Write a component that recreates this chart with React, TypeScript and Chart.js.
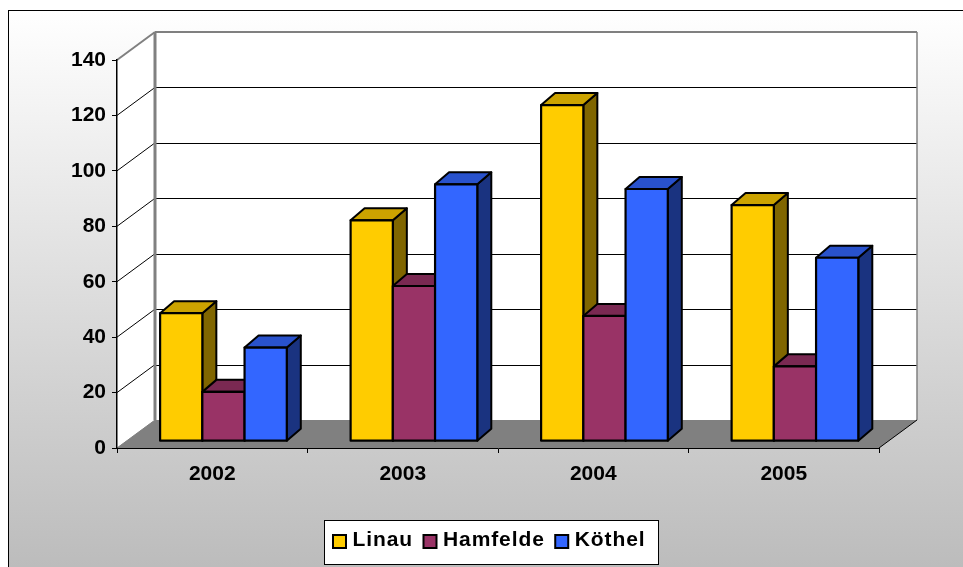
import React, { useEffect, useRef } from "react";
import { Chart, registerables } from "chart.js";

Chart.register(...registerables);

const years = ["2002", "2003", "2004", "2005"];
const linau = [46.2, 79.7, 121.3, 85.2];
const hamfelde = [17.8, 56, 45.2, 27];
const koethel = [33.8, 92.7, 91, 66.2];

const FONT = "'Liberation Sans', Arial, sans-serif";
const WALL_DX = 38;
const WALL_DY = 28;
const BAR_SHIFT_X = 11.2;
const BAR_SHIFT_Y = 6.8;
const BAR_DX = 14;
const BAR_DY = 12;

const sides: Record<string, { top: string; side: string }> = {
  "#FFCC00": { top: "#CCA300", side: "#806600" },
  "#993366": { top: "#7A2952", side: "#4D1A33" },
  "#3366FF": { top: "#2952CC", side: "#1A3380" },
};

function poly(ctx: CanvasRenderingContext2D, pts: number[][], fill?: string, stroke?: string, lw = 1) {
  ctx.beginPath();
  pts.forEach((p, i) => (i ? ctx.lineTo(p[0], p[1]) : ctx.moveTo(p[0], p[1])));
  ctx.closePath();
  if (fill) {
    ctx.fillStyle = fill;
    ctx.fill();
  }
  if (stroke) {
    ctx.strokeStyle = stroke;
    ctx.lineWidth = lw;
    ctx.lineJoin = "round";
    ctx.stroke();
  }
}

function line(ctx: CanvasRenderingContext2D, x0: number, y0: number, x1: number, y1: number, color: string, lw: number) {
  ctx.beginPath();
  ctx.moveTo(x0, y0);
  ctx.lineTo(x1, y1);
  ctx.strokeStyle = color;
  ctx.lineWidth = lw;
  ctx.stroke();
}

const scene3d = {
  id: "scene3d",
  afterDatasetsUpdate(chart: any) {
    chart.data.datasets.forEach((_: any, i: number) => {
      chart.getDatasetMeta(i).data.forEach((el: any) => {
        el.x += BAR_SHIFT_X;
        el.y -= BAR_SHIFT_Y;
        el.base -= BAR_SHIFT_Y;
      });
    });
  },
  beforeDraw(chart: any) {
    const { ctx, width, height, chartArea: a, scales } = chart;
    ctx.save();
    const g = ctx.createLinearGradient(0, 10, 0, height);
    g.addColorStop(0, "#FFFFFF");
    g.addColorStop(1, "#BCBCBC");
    ctx.fillStyle = "#FFFFFF";
    ctx.fillRect(0, 0, width, height);
    ctx.fillStyle = g;
    ctx.fillRect(8.5, 10.5, width, height);
    ctx.strokeStyle = "#000";
    ctx.lineWidth = 1;
    ctx.strokeRect(8.5, 10.5, width, height);

    const bx0 = a.left + WALL_DX;
    const bx1 = a.right + WALL_DX;
    const by0 = a.top - WALL_DY;
    const by1 = a.bottom - WALL_DY;
    poly(ctx, [[a.left, a.top], [bx0, by0], [bx0, by1], [a.left, a.bottom]], "#FFFFFF");
    poly(ctx, [[bx0, by0], [bx1, by0], [bx1, by1], [bx0, by1]], "#FFFFFF");
    scales.y.ticks.forEach((t: any) => {
      if (t.value === 0 || t.value === 140) return;
      const y = scales.y.getPixelForValue(t.value);
      line(ctx, a.left, y, bx0, y - WALL_DY, "#000", 1);
      line(ctx, bx0, Math.round(y - WALL_DY) + 0.5, bx1, Math.round(y - WALL_DY) + 0.5, "#000", 1);
    });
    poly(ctx, [[a.left, a.bottom], [bx0, by1], [bx1, by1], [a.right, a.bottom]], "#808080");
    line(ctx, a.left, a.top, bx0, by0, "#808080", 2);
    line(ctx, bx0, by0, bx1, by0, "#808080", 2);
    line(ctx, bx0, by0, bx0, by1, "#808080", 3);
    line(ctx, bx1, by0, bx1, by1, "#808080", 1.5);
    line(ctx, a.left, a.bottom, bx0, by1, "#808080", 1);
    line(ctx, a.right, a.bottom, bx1, by1, "#000", 1);
    ctx.restore();
  },
  beforeDatasetsDraw(chart: any) {
    const { ctx } = chart;
    chart.data.datasets.forEach((ds: any, i: number) => {
      chart.getDatasetMeta(i).data.forEach((el: any) => {
        const x0 = el.x - el.width / 2;
        const x1 = el.x + el.width / 2;
        const c = sides[ds.backgroundColor];
        ctx.save();
        poly(ctx, [[x1, el.y], [x1 + BAR_DX, el.y - BAR_DY], [x1 + BAR_DX, el.base - BAR_DY], [x1, el.base]], c.side, "#000", 2);
        poly(ctx, [[x0, el.y], [x0 + BAR_DX, el.y - BAR_DY], [x1 + BAR_DX, el.y - BAR_DY], [x1, el.y]], c.top, "#000", 2);
        ctx.restore();
        el.draw(ctx);
        ctx.save();
        poly(ctx, [[x0, el.y], [x1, el.y], [x1, el.base], [x0, el.base]], undefined, "#000", 2.2);
        ctx.restore();
      });
    });
    return false;
  },
  afterDraw(chart: any) {
    const { ctx } = chart;
    ctx.save();
    ctx.fillStyle = "#FFFFFF";
    ctx.fillRect(324.5, 520.5, 334, 44);
    ctx.strokeStyle = "#000";
    ctx.lineWidth = 1;
    ctx.strokeRect(324.5, 520.5, 334, 44);
    let x = 333;
    ctx.font = `bold 21px ${FONT}`;
    (ctx as any).letterSpacing = "0.9px";
    ctx.textBaseline = "middle";
    ctx.textAlign = "left";
    chart.data.datasets.forEach((ds: any) => {
      ctx.fillStyle = ds.backgroundColor;
      ctx.fillRect(x, 535, 13, 13);
      ctx.strokeStyle = "#000";
      ctx.lineWidth = 2;
      ctx.strokeRect(x, 535, 13, 13);
      ctx.fillStyle = "#000";
      ctx.fillText(ds.label, x + 19.5, 540);
      x += 19.5 + ctx.measureText(ds.label).width + 10.5;
    });
    ctx.restore();
  },
};

export default function App() {
  const ref = useRef<HTMLCanvasElement>(null);
  useEffect(() => {
    const chart = new Chart(ref.current!, {
      type: "bar",
      data: {
        labels: years,
        datasets: [
          { label: "Linau", data: linau, backgroundColor: "#FFCC00" },
          { label: "Hamfelde", data: hamfelde, backgroundColor: "#993366" },
          { label: "Köthel", data: koethel, backgroundColor: "#3366FF" },
        ].map((d) => ({
          ...d,
          borderWidth: 0,
          barPercentage: 1,
          categoryPercentage: 0.665,
        })),
      },
      options: {
        responsive: false,
        animation: false,
        devicePixelRatio: 1,
        layout: { padding: { left: 0, top: 60, right: 84, bottom: 0 } },
        plugins: { legend: { display: false }, tooltip: { enabled: false } },
        scales: {
          x: {
            afterFit: (s: any) => {
              s.height = 119;
            },
            grid: { drawOnChartArea: false, color: "#000", tickLength: 5, tickWidth: 1, offset: true },
            border: { color: "#000", width: 1 },
            ticks: { color: "#000", font: { family: FONT, size: 21, weight: "bold" }, padding: 9, maxRotation: 0 },
          },
          y: {
            min: 0,
            max: 140,
            afterFit: (s: any) => {
              s.width = 117;
            },
            grid: { drawOnChartArea: false, color: "#000", tickLength: 5, tickWidth: 1 },
            border: { color: "#000", width: 1.5 },
            ticks: { stepSize: 20, color: "#000", font: { family: FONT, size: 21, weight: "bold" }, padding: 6 },
          },
        },
      },
      plugins: [scene3d],
    } as any);
    return () => chart.destroy();
  }, []);
  return <canvas ref={ref} width={963} height={567} style={{ position: "fixed", left: 0, top: 0, display: "block" }} />;
}
